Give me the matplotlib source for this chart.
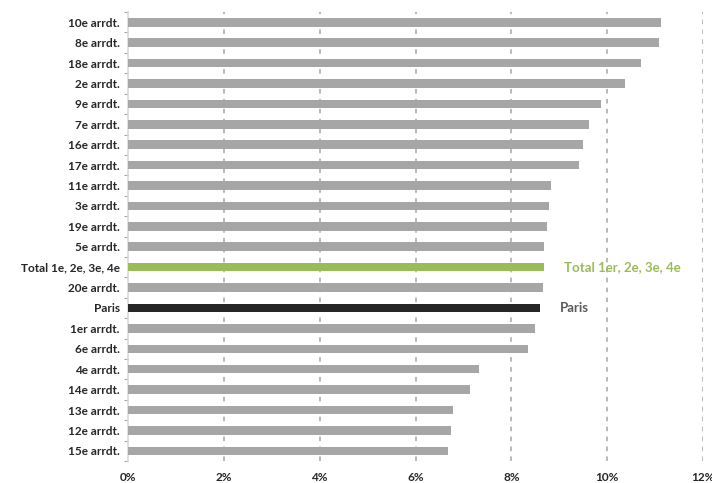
import numpy as np
import matplotlib.pyplot as plt

labels = ['10e arrdt.', '8e arrdt.', '18e arrdt.', '2e arrdt.', '9e arrdt.',
          '7e arrdt.', '16e arrdt.', '17e arrdt.', '11e arrdt.', '3e arrdt.',
          '19e arrdt.', '5e arrdt.', 'Total 1e, 2e, 3e, 4e', '20e arrdt.',
          'Paris', '1er arrdt.', '6e arrdt.', '4e arrdt.', '14e arrdt.',
          '13e arrdt.', '12e arrdt.', '15e arrdt.']
values = [11.13, 11.09, 10.70, 10.38, 9.87, 9.61, 9.50, 9.41, 8.82, 8.78,
          8.75, 8.68, 8.69, 8.66, 8.59, 8.50, 8.34, 7.33, 7.14, 6.78, 6.75, 6.68]
xticks = [0, 2, 4, 6, 8, 10, 12]

plt.rcParams['font.family'] = ['Lato', 'DejaVu Sans']

colors = []
for lab in labels:
    if lab.startswith('Total'):
        colors.append('#9BBB59')
    elif lab == 'Paris':
        colors.append('#262626')
    else:
        colors.append('#A6A6A6')

fig = plt.figure(figsize=(7.12, 4.83), dpi=100)
ax = fig.add_axes([0.1798, 0.0455, 0.8076, 0.9295])

y = np.arange(len(labels))
ax.barh(y, values, height=0.42, color=colors, zorder=3)
ax.set_ylim(len(labels) - 0.5, -0.5)
ax.set_xlim(0, 12)

ax.set_yticks(y)
ax.set_yticklabels(labels, fontsize=8.5, fontweight='bold', color='#262626')
ax.set_yticks(np.arange(len(labels) + 1) - 0.5, minor=True)
ax.tick_params(axis='y', which='major', length=0, pad=6)
ax.tick_params(axis='y', which='minor', length=3, color='#A6A6A6', width=0.8)

ax.set_xticks(xticks)
ax.set_xticklabels([f'{t}%' for t in xticks], fontsize=8.5, fontweight='bold', color='#262626')
ax.tick_params(axis='x', length=0, pad=8)

ax.grid(axis='x', linestyle=(0, (3, 3.5)), color='#A6A6A6', linewidth=1.1, zorder=0)
ax.xaxis.get_gridlines()[0].set_visible(False)

for s in ['top', 'right', 'bottom']:
    ax.spines[s].set_visible(False)
ax.spines['left'].set_color('#D9D9D9')
ax.spines['left'].set_linewidth(1.2)

i_tot = labels.index('Total 1e, 2e, 3e, 4e')
i_par = labels.index('Paris')
ax.text(values[i_tot] + 0.4, i_tot, 'Total 1er, 2e, 3e, 4e', color='#9BBB59',
        fontsize=9.5, fontweight='bold', va='center', ha='left')
ax.text(values[i_par] + 0.43, i_par, 'Paris', color='#595959',
        fontsize=9.5, fontweight='bold', va='center', ha='left')

fig.savefig('out.png', dpi=100)
